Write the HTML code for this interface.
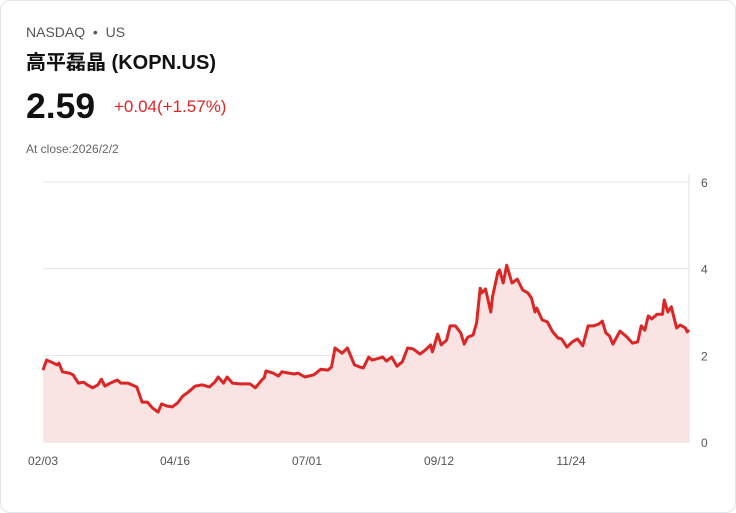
<!DOCTYPE html>
<html><head><meta charset="utf-8"><style>
body{margin:0;background:#fff;font-family:"Liberation Sans","Noto Sans CJK SC",sans-serif;}
.card{position:absolute;left:0;top:0;width:734px;height:511px;border:1px solid #e3e6ec;border-radius:10px;background:#fff;}
.t{position:absolute;white-space:nowrap;}
</style></head><body>
<div class="card">
<div class="t" style="left:25px;top:23px;font-size:14px;color:#555;">NASDAQ &nbsp;•&nbsp; US</div>
<div class="t" style="left:25px;top:45px;font-size:20px;font-weight:bold;color:#111;">高平磊晶 (KOPN.US)</div>
<div class="t" style="left:25px;top:85px;font-size:35.5px;font-weight:bold;color:#111;">2.59</div>
<div class="t" style="left:113px;top:96px;font-size:17px;color:#e02424;">+0.04(+1.57%)</div>
<div class="t" style="left:25px;top:141px;font-size:12px;color:#666;">At close:2026/2/2</div>
<svg id="chart" width="736" height="513" style="position:absolute;left:-1px;top:-1px;"></svg>
</div>
<script>
const yTicks=[0,2,4,6];
const xLabels=["02/03","04/16","07/01","09/12","11/24"];
const days=[0,2,5,8,9,11,15,17,20,23,25,28,31,33,35,38,42,44,48,53,56,59,62,65,67,70,73,76,79,82,86,90,94,97,99,102,104,107,111,117,120,124,125,126,130,133,135,139,142,144,148,153,157,161,163,165,169,172,176,179,181,184,186,192,194,197,200,203,206,209,213,216,219,220,223,225,228,230,233,236,238,240,243,245,247,248,250,253,254,257,258,260,262,265,268,271,274,276,278,279,282,285,288,291,293,296,299,302,305,308,311,314,316,318,320,322,326,330,333,336,338,340,342,344,347,350,351,353,355,358,360,363,364,365];
const values=[1.66,1.89,1.84,1.78,1.82,1.62,1.59,1.55,1.36,1.38,1.32,1.25,1.32,1.45,1.29,1.36,1.43,1.36,1.36,1.27,0.92,0.92,0.78,0.69,0.88,0.83,0.81,0.90,1.06,1.15,1.29,1.32,1.27,1.38,1.50,1.36,1.50,1.36,1.34,1.34,1.25,1.45,1.48,1.64,1.59,1.52,1.62,1.59,1.57,1.59,1.50,1.55,1.68,1.66,1.73,2.17,2.05,2.17,1.78,1.73,1.71,1.96,1.89,1.96,1.87,1.96,1.75,1.85,2.17,2.15,2.03,2.12,2.24,2.08,2.49,2.24,2.35,2.68,2.68,2.52,2.26,2.42,2.47,2.75,3.55,3.44,3.53,3.00,3.35,3.92,3.97,3.67,4.08,3.67,3.76,3.51,3.44,3.32,3.00,3.09,2.82,2.77,2.54,2.40,2.38,2.19,2.31,2.38,2.22,2.68,2.68,2.72,2.79,2.52,2.45,2.26,2.56,2.42,2.28,2.31,2.68,2.58,2.91,2.84,2.95,2.95,3.28,3.00,3.12,2.63,2.70,2.63,2.54,2.59];
const svg=document.getElementById('chart');
const NS='http://www.w3.org/2000/svg';
const x0=43,x1=689,yB=442,yT=182,yMax=6,dMax=365;
const X=d=>x0+(x1-x0)*d/dMax;
const Y=v=>yB-(yB-yT)*v/yMax;
function mk(t,a){const e=document.createElementNS(NS,t);for(const k in a)e.setAttribute(k,a[k]);svg.appendChild(e);return e;}
yTicks.forEach(v=>{
 const l=mk('line',{x1:x0,x2:x1,y1:Y(v),y2:Y(v),stroke:v===0?'#d8d8d8':'#e6e6e6','stroke-width':1});
 
 
 const t=mk('text',{x:701,y:Y(v)+5,'font-size':12,fill:'#555','font-family':'Liberation Sans, sans-serif'});
 t.textContent=v;
 
 
});
const ax=mk('line',{x1:x1,x2:x1,y1:yT-8,y2:yB,stroke:'#e0e0e0','stroke-width':1});


xLabels.forEach((s,i)=>{
 const t=mk('text',{x:x0+i*132,y:465,'font-size':12,fill:'#555','text-anchor':'middle','font-family':'Liberation Sans, sans-serif'});
 t.textContent=s;
 
 
});
let d=values.map((v,i)=>(i?'L':'M')+X(days[i]).toFixed(1)+','+Y(v).toFixed(1)).join('');
const area=mk('path',{d:d+`L${X(days[days.length-1])},${yB}L${x0},${yB}Z`,fill:'#f9e3e3'});


const line=mk('path',{d:d,fill:'none',stroke:'#dc2626','stroke-width':3,'stroke-linejoin':'round'});


</script>
</body></html>
